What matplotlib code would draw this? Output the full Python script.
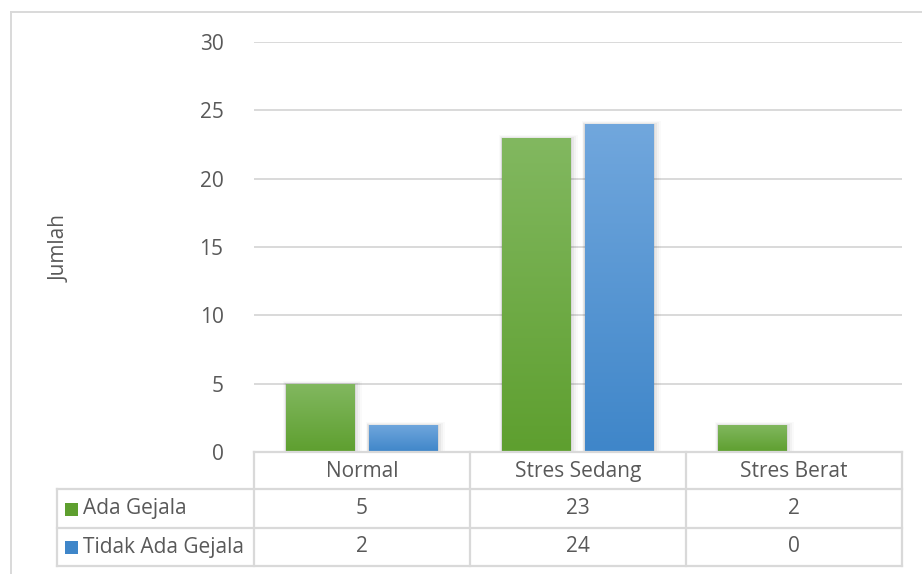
import numpy as np
import matplotlib.pyplot as plt
from matplotlib.patches import Rectangle
from matplotlib.lines import Line2D
from matplotlib.colors import LinearSegmentedColormap

categories = ["Normal", "Stres Sedang", "Stres Berat"]
series_names = ["Ada Gejala", "Tidak Ada Gejala"]
ada_gejala = [5, 23, 2]
tidak_ada_gejala = [2, 24, 0]
y_ticks = [0, 5, 10, 15, 20, 25, 30]

plt.rcParams["font.family"] = ["Open Sans", "DejaVu Sans"]
text_color = "#595959"
grid_color = "#d9d9d9"
fs = 15

# top / bottom shades for the bar gradients
green = ("#82b860", "#5e9f2f")
blue = ("#71a7dd", "#3f86c9")

W, H = 922, 574
fig = plt.figure(figsize=(W / 100, H / 100), dpi=100)

# plot area in pixels
px_left, px_right = 254, 902
px_bottom, px_top = 452, 42
ax = fig.add_axes([px_left / W, 1 - px_bottom / H,
                   (px_right - px_left) / W, (px_bottom - px_top) / H])
ax.set_xlim(-0.5, len(categories) - 0.5)
ax.set_ylim(0, 30)
ax.set_yticks(y_ticks)
ax.set_xticks([])
ax.tick_params(axis="y", length=0, pad=22, labelsize=fs, labelcolor=text_color)
for s in ax.spines.values():
    s.set_visible(False)
ax.grid(axis="y", color=grid_color, lw=1.4)
ax.set_axisbelow(True)
fig.text(60 / W, 1 - 248 / H, "Jumlah", rotation=90, ha="center", va="center",
         fontsize=fs, color=text_color)

bar_w = 0.315
offsets = [-0.194, 0.19]
x = np.arange(len(categories))
grad = np.linspace(0, 1, 256).reshape(-1, 1)

for vals, off, (c_top, c_bot) in zip([ada_gejala, tidak_ada_gejala], offsets, [green, blue]):
    cmap = LinearSegmentedColormap.from_list("g", [c_top, c_bot])
    bars = ax.bar(x + off, vals, bar_w, color=c_bot, zorder=3)
    for b in bars:
        h = b.get_height()
        if h <= 0:
            continue
        bx, bw = b.get_x(), b.get_width()
        # soft shadow
        for i, a in enumerate([0.06, 0.045, 0.03, 0.02]):
            d = (i + 1) * 0.006
            ax.add_patch(Rectangle((bx - d * 0.6, -0.1), bw + d * 2.2, h + d * 12,
                                   color="black", alpha=a, lw=0, zorder=2))
        im = ax.imshow(grad, cmap=cmap, aspect="auto", zorder=4,
                       extent=(bx, bx + bw, 0, h), interpolation="bicubic")
        im.set_clip_path(b)
ax.set_xlim(-0.5, len(categories) - 0.5)
ax.set_ylim(0, 30)

# data table below the plot
tab = fig.add_axes([0, 0, 1, 1], zorder=5)
tab.set_xlim(0, W)
tab.set_ylim(H, 0)
tab.axis("off")
tab.patch.set_alpha(0)

col_w = (px_right - px_left) / len(categories)
row_y = [452, 489, 528, 566]
tab_left = 57
lc = dict(color=grid_color, lw=1.6)

# header row
tab.add_line(Line2D([px_left, px_right], [row_y[0]] * 2, **lc))
for i in range(len(categories) + 1):
    xx = px_left + i * col_w
    tab.add_line(Line2D([xx, xx], [row_y[0], row_y[3]], **lc))
for yy in row_y[1:]:
    tab.add_line(Line2D([tab_left, px_right], [yy, yy], **lc))
tab.add_line(Line2D([tab_left, tab_left], [row_y[1], row_y[3]], **lc))

for i, cat in enumerate(categories):
    tab.text(px_left + (i + 0.5) * col_w, (row_y[0] + row_y[1]) / 2 + 1, cat,
             ha="center", va="center", fontsize=fs, color=text_color)

for r, (name, vals, (c_top, c_bot)) in enumerate(zip(series_names,
                                                      [ada_gejala, tidak_ada_gejala],
                                                      [green, blue])):
    yc = (row_y[r + 1] + row_y[r + 2]) / 2
    tab.add_patch(Rectangle((65, yc - 6), 13, 13, color=c_bot, lw=0))
    tab.text(83, yc, name, ha="left", va="center", fontsize=fs, color=text_color)
    for i, v in enumerate(vals):
        tab.text(px_left + (i + 0.5) * col_w, yc, str(v),
                 ha="center", va="center", fontsize=fs, color=text_color)

# chart frame
tab.add_line(Line2D([11, W], [12, 12], color="#d9d9d9", lw=1.4))
tab.add_line(Line2D([11, 11], [12, H], color="#d9d9d9", lw=1.4))

fig.savefig("out.png", dpi=100)
